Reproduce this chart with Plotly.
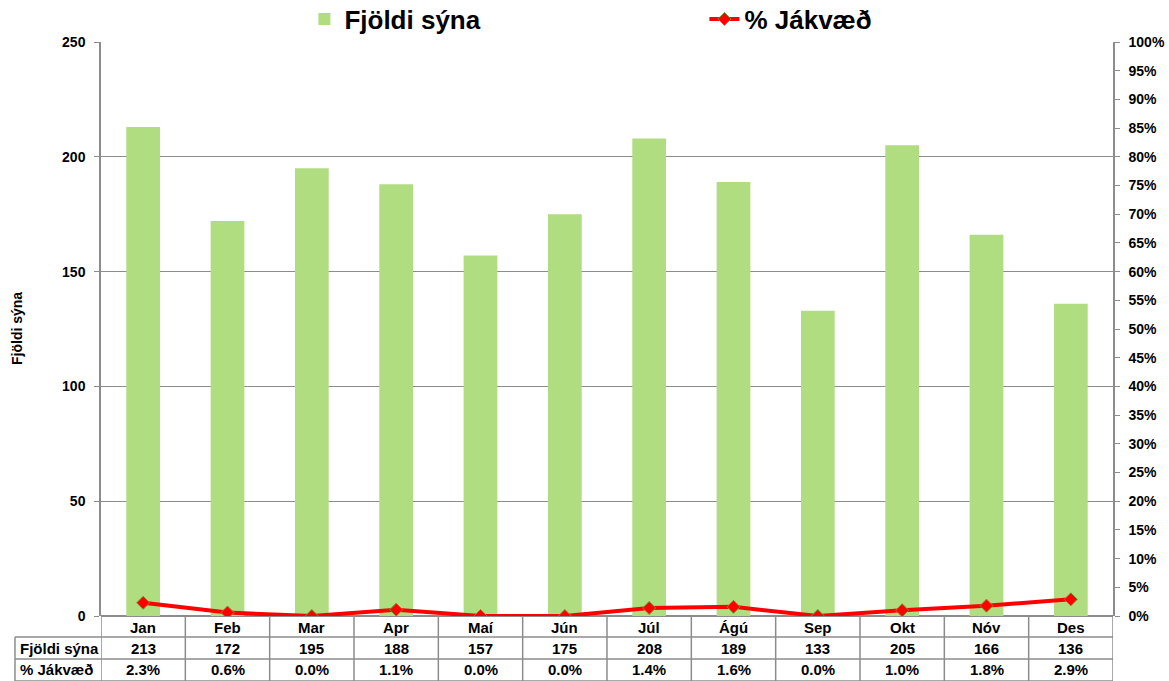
import plotly.graph_objects as go

months = ["Jan", "Feb", "Mar", "Apr", "Maí", "Jún", "Júl", "Ágú", "Sep", "Okt", "Nóv", "Des"]
samples = [213, 172, 195, 188, 157, 175, 208, 189, 133, 205, 166, 136]
positive_pct = [2.3, 0.6, 0.0, 1.1, 0.0, 0.0, 1.4, 1.6, 0.0, 1.0, 1.8, 2.9]
bar_name = "Fjöldi sýna"
line_name = "% Jákvæð"

W, H = 1169, 681
L, R, T, B = 101, 56, 42, 65
plot_h = H - T - B
plot_w = W - L - R

FONT = "Liberation Sans, Arial, sans-serif"
GRID = "#8c8c8c"

def bfont(size):
    return dict(family=FONT, size=size, color="black", weight="bold")

fig = go.Figure()
fig.add_trace(go.Bar(x=list(range(12)), y=samples, name=bar_name,
                     marker=dict(color="#B1DD81", line=dict(width=0)), width=0.4))
fig.add_trace(go.Scatter(x=list(range(12)), y=positive_pct, name=line_name, yaxis="y2",
                         mode="lines+markers",
                         line=dict(color="#FF0000", width=4),
                         marker=dict(symbol="diamond", size=10, color="#FF0000",
                                     line=dict(color="#7F8F30", width=1))))

def py(px):
    # pixel offset below the axis -> paper coordinate
    return -px / plot_h

ann = []
row_y = [py(11), py(32), py(54)]
for i, m in enumerate(months):
    ann.append(dict(x=i, y=row_y[0], xref="x", yref="paper", text=m, showarrow=False,
                    font=bfont(15), xanchor="center", yanchor="middle"))
    ann.append(dict(x=i, y=row_y[1], xref="x", yref="paper", text=str(samples[i]), showarrow=False,
                    font=bfont(15), xanchor="center", yanchor="middle"))
    ann.append(dict(x=i, y=row_y[2], xref="x", yref="paper", text=f"{positive_pct[i]:.1f}%", showarrow=False,
                    font=bfont(15), xanchor="center", yanchor="middle"))
hdr_x = (18 - L) / plot_w
ann.append(dict(x=hdr_x, y=row_y[1], xref="paper", yref="paper", text=bar_name, showarrow=False,
                font=bfont(15), xanchor="left", yanchor="middle"))
ann.append(dict(x=hdr_x, y=row_y[2], xref="paper", yref="paper", text=line_name, showarrow=False,
                font=bfont(15), xanchor="left", yanchor="middle"))
ann.append(dict(x=(17 - L) / plot_w, y=0.5, xref="paper", yref="paper", text=bar_name, showarrow=False,
                textangle=-90, font=bfont(14), xanchor="center", yanchor="middle"))

shapes = []
tbl_left = (15 - L) / plot_w
for k in range(13):
    shapes.append(dict(type="line", xref="x", yref="paper", x0=k - 0.5, x1=k - 0.5,
                       y0=0, y1=py(66), line=dict(color=GRID, width=1.5)))
shapes.append(dict(type="line", xref="paper", yref="paper", x0=tbl_left, x1=tbl_left,
                   y0=py(21), y1=py(66), line=dict(color=GRID, width=1.5)))
for yy in [21, 43, 65]:
    shapes.append(dict(type="line", xref="paper", yref="paper", x0=tbl_left, x1=1,
                       y0=py(yy), y1=py(yy), line=dict(color=GRID, width=1.5)))

fig.update_layout(
    width=W, height=H,
    margin=dict(l=L, r=R, t=T, b=B, pad=0, autoexpand=False),
    paper_bgcolor="white", plot_bgcolor="white",
    font=dict(family=FONT, color="black"),
    bargap=0.6,
    showlegend=True,
    legend=dict(orientation="h", x=0.201, y=1.04, xanchor="left", yanchor="middle",
                font=bfont(26),
                entrywidth=355, itemwidth=30, tracegroupgap=0, bgcolor="rgba(0,0,0,0)"),
    xaxis=dict(range=[-0.5, 11.5], showticklabels=False, showgrid=False, zeroline=False,
               showline=False, ticks=""),
    yaxis=dict(range=[0, 250], dtick=50, showgrid=True, gridcolor=GRID, gridwidth=1,
               showline=True, linecolor=GRID, linewidth=1.5, ticks="outside", ticklen=5,
               tickcolor=GRID, zeroline=True, zerolinecolor=GRID, zerolinewidth=1.5,
               tickfont=bfont(14), ticklabelstandoff=6),
    yaxis2=dict(range=[0, 100], dtick=5, overlaying="y", side="right", showgrid=False,
                showline=True, linecolor=GRID, linewidth=1.5, ticks="outside", ticklen=5,
                tickcolor=GRID, ticksuffix="%", zeroline=False,
                tickfont=bfont(14), ticklabelstandoff=6),
    annotations=ann,
    shapes=shapes,
)

fig.write_html("out.html", config={"displayModeBar": False},
               post_script="document.body.style.margin='0';document.body.style.overflow='hidden';")
